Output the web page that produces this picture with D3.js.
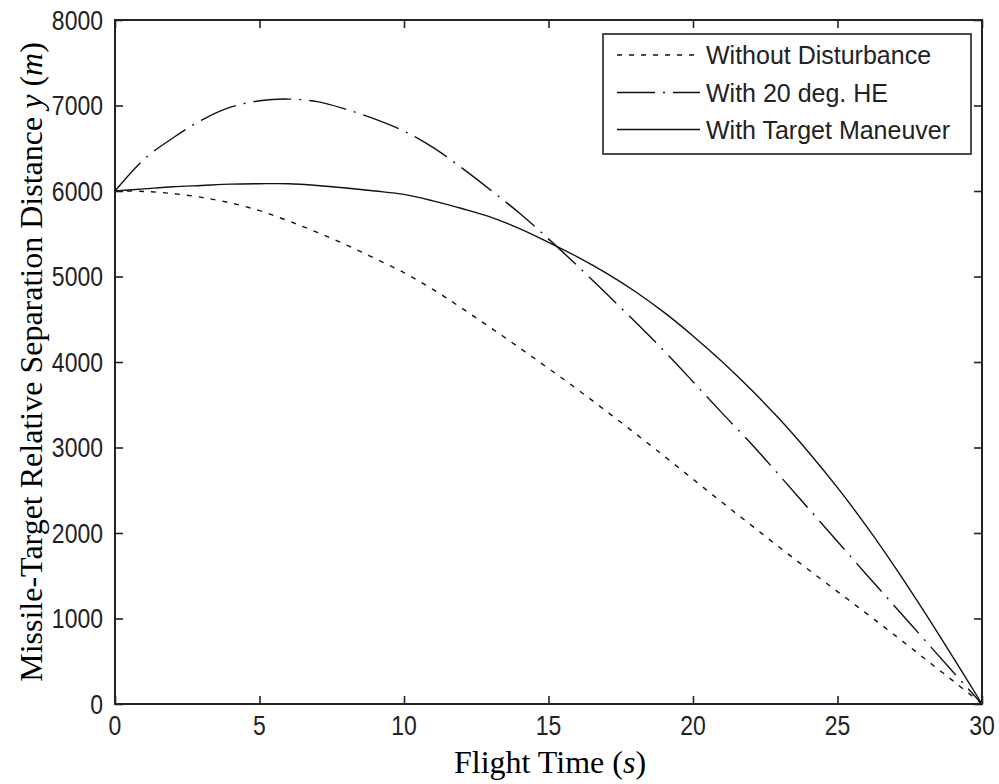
<!DOCTYPE html>
<html>
<head>
<meta charset="utf-8">
<script src="https://cdn.jsdelivr.net/npm/d3@7/dist/d3.min.js"></script>
<style>
  html, body { margin: 0; padding: 0; background: #fff; }
  svg { display: block; }
</style>
</head>
<body>
<script>
// Flight time samples (s)
const times = [0,1,2,3,4,5,6,7,8,9,10,11,12,13,14,15,16,17,18,19,20,21,22,23,24,25,26,27,28,29,30];

// Relative separation distance y (m) for each case
const withoutDisturbance = [6000,5995,5970,5925,5860,5770,5650,5515,5370,5210,5045,4850,4630,4400,4165,3925,3680,3425,3165,2900,2630,2360,2095,1830,1570,1315,1060,800,535,270,0];
const withHeadingError = [6000,6370,6620,6830,6980,7055,7075,7045,6955,6840,6700,6510,6270,6010,5740,5440,5125,4800,4470,4130,3770,3405,3050,2670,2285,1900,1515,1135,755,375,0];
const withTargetManeuver = [6000,6025,6050,6065,6080,6085,6085,6065,6035,6000,5960,5885,5795,5695,5560,5400,5230,5040,4825,4580,4305,4005,3680,3330,2945,2530,2080,1595,1080,545,0];

const seriesNames = ["Without Disturbance", "With 20 deg. HE", "With Target Maneuver"];
const seriesDash = ["5,7", "38,8,2,8", null];

const xTicks = [0,5,10,15,20,25,30];
const yTicks = [0,1000,2000,3000,4000,5000,6000,7000,8000];

const W = 999, H = 784;
const mLeft = 115, mRight = 982, mTop = 20, mBottom = 704;
const ink = "#222";

const svg = d3.select("body").append("svg").attr("width", W).attr("height", H);
svg.append("rect").attr("width", W).attr("height", H).attr("fill", "#fff");

const x = d3.scaleLinear().domain([0, 30]).range([mLeft, mRight]);
const y = d3.scaleLinear().domain([0, 8000]).range([mBottom, mTop]);

// curves
const series = [withoutDisturbance, withHeadingError, withTargetManeuver];
const line = d3.line()
  .x((d, i) => x(times[i]))
  .y(d => y(d))
  .curve(d3.curveCatmullRom.alpha(0.5));

const plot = svg.append("g");
series.forEach((vals, k) => {
  plot.append("path")
    .datum(vals)
    .attr("d", line)
    .attr("fill", "none")
    .attr("stroke", "#111")
    .attr("stroke-width", 1.4)
    .attr("stroke-dasharray", seriesDash[k]);
});

// inward ticks on all four sides, no text from the axis generators
const tickLen = 8;
function styleAxis(g) {
  g.select(".domain").remove();
  g.selectAll(".tick line").attr("stroke", ink).attr("stroke-width", 1.6);
  g.selectAll(".tick text").remove();
}
svg.append("g").attr("transform", `translate(0,${mBottom})`)
  .call(d3.axisBottom(x).tickValues(xTicks).tickSize(-tickLen)).call(styleAxis);
svg.append("g").attr("transform", `translate(0,${mTop})`)
  .call(d3.axisTop(x).tickValues(xTicks).tickSize(-tickLen)).call(styleAxis);
svg.append("g").attr("transform", `translate(${mLeft},0)`)
  .call(d3.axisLeft(y).tickValues(yTicks).tickSize(-tickLen)).call(styleAxis);
svg.append("g").attr("transform", `translate(${mRight},0)`)
  .call(d3.axisRight(y).tickValues(yTicks).tickSize(-tickLen)).call(styleAxis);

// box around the axes
svg.append("rect")
  .attr("x", mLeft).attr("y", mTop)
  .attr("width", mRight - mLeft).attr("height", mBottom - mTop)
  .attr("fill", "none").attr("stroke", ink).attr("stroke-width", 2);

// tick labels
const tickFont = "'Liberation Sans', Arial, sans-serif";
svg.append("g").selectAll("text").data(xTicks).join("text")
  .attr("transform", d => `translate(${x(d)},${mBottom + 31}) scale(1,1.2)`)
  .attr("text-anchor", "middle")
  .attr("font-family", tickFont).attr("font-size", 23).attr("fill", ink)
  .text(d => d);
svg.append("g").selectAll("text").data(yTicks).join("text")
  .attr("transform", d => `translate(${mLeft - 12},${y(d) + 9.5}) scale(1,1.2)`)
  .attr("text-anchor", "end")
  .attr("font-family", tickFont).attr("font-size", 23).attr("fill", ink)
  .text(d => d);

// axis titles
const titleFont = "'Liberation Serif', 'Times New Roman', serif";
const xt = svg.append("text")
  .attr("x", 550).attr("y", 773)
  .attr("text-anchor", "middle")
  .attr("font-family", titleFont).attr("font-size", 32).attr("fill", "#000");
xt.append("tspan").text("Flight Time (");
xt.append("tspan").attr("font-style", "italic").text("s");
xt.append("tspan").text(")");

const yt = svg.append("text")
  .attr("transform", `translate(42,${(mTop + mBottom) / 2}) rotate(-90)`)
  .attr("text-anchor", "middle")
  .attr("font-family", titleFont).attr("font-size", 32).attr("fill", "#000");
yt.append("tspan").text("Missile-Target Relative Separation Distance ");
yt.append("tspan").attr("font-style", "italic").text("y");
yt.append("tspan").text(" (");
yt.append("tspan").attr("font-style", "italic").text("m");
yt.append("tspan").text(")");

// legend
const lg = svg.append("g");
lg.append("rect")
  .attr("x", 603).attr("y", 34).attr("width", 368).attr("height", 120)
  .attr("fill", "#fff").attr("stroke", ink).attr("stroke-width", 1.6);
const rowY = [55, 92.5, 129.5];
seriesNames.forEach((name, k) => {
  lg.append("line")
    .attr("x1", 617).attr("x2", 700)
    .attr("y1", rowY[k]).attr("y2", rowY[k])
    .attr("stroke", "#111").attr("stroke-width", 1.4)
    .attr("stroke-dasharray", seriesDash[k]);
  lg.append("text")
    .attr("transform", `translate(706,${rowY[k] + 9}) scale(1,1.05)`)
    .attr("font-family", tickFont).attr("font-size", 25).attr("fill", ink)
    .text(name);
});
</script>
</body>
</html>
